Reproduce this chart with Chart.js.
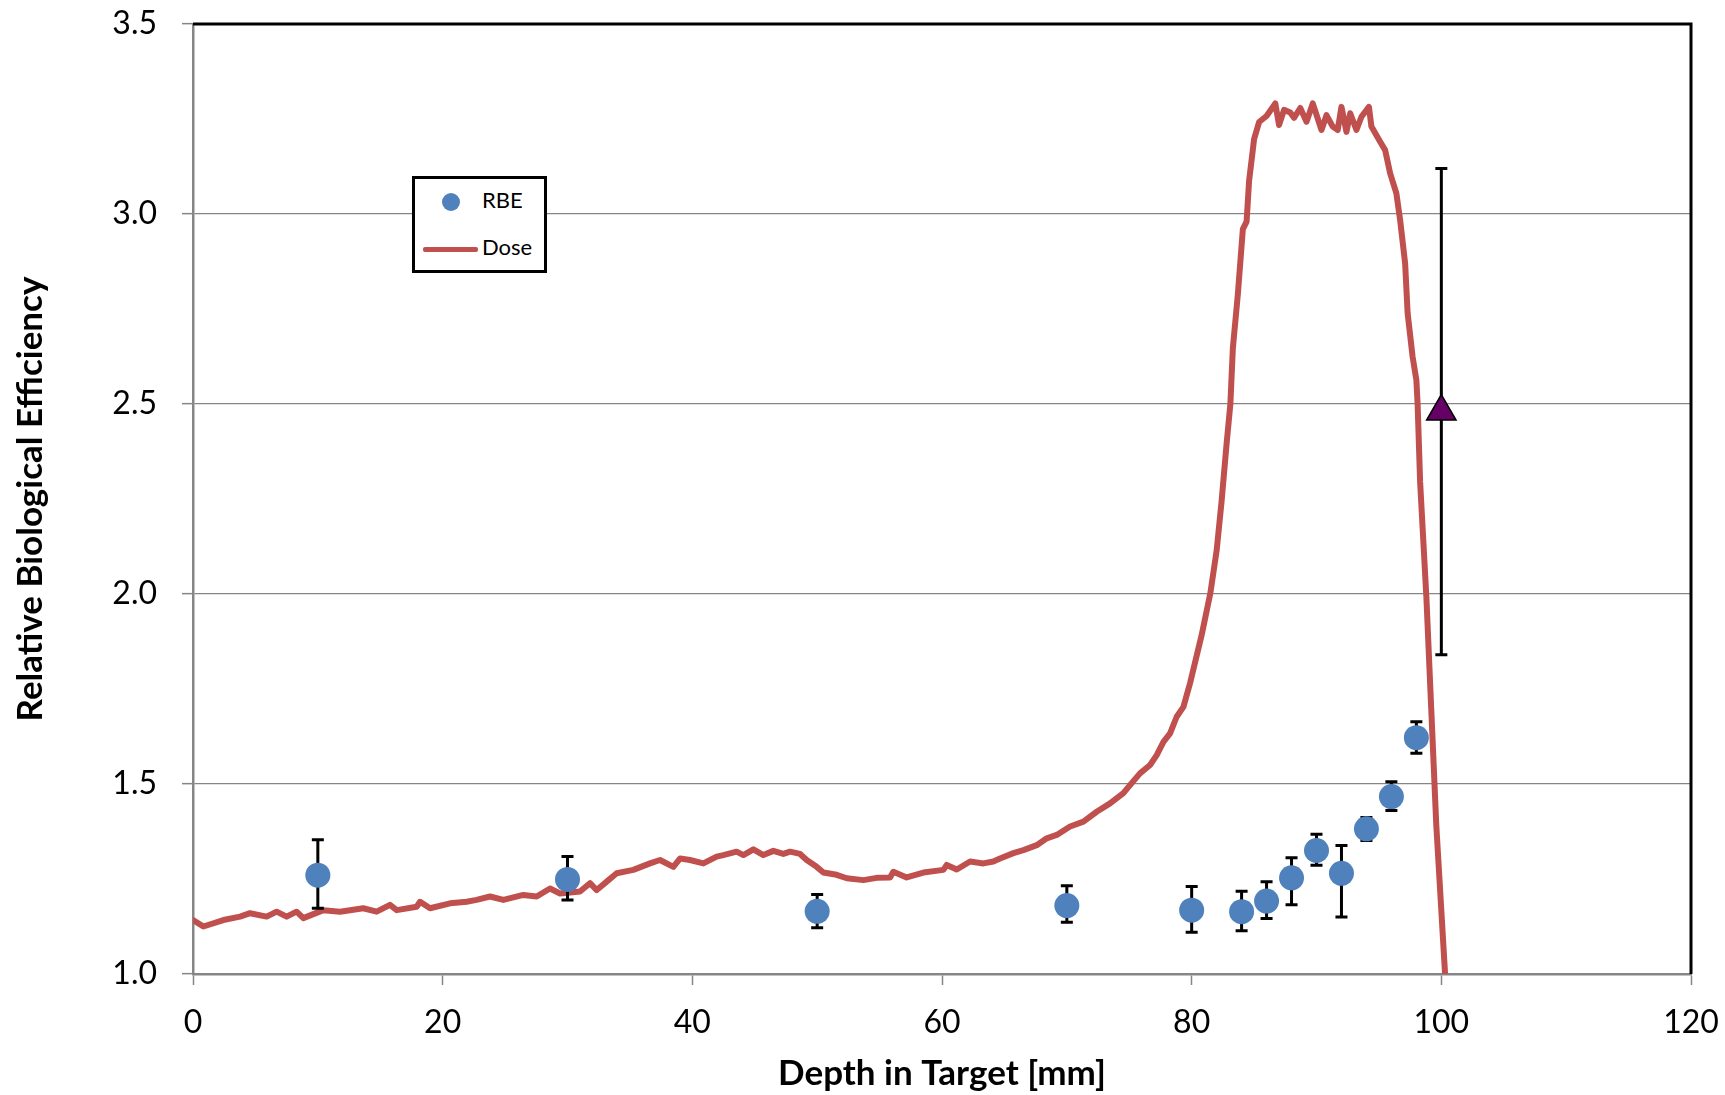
<!DOCTYPE html>
<html>
<head>
<meta charset="utf-8">
<title>RBE vs depth</title>
<script src="https://cdn.jsdelivr.net/npm/chart.js@4.4.1/dist/chart.umd.min.js"></script>
<style>
  body { margin: 0; background: #fff; }
  #wrap { position: relative; width: 1725px; height: 1095px; }
  #legend {
    position: absolute; left: 412px; top: 176px; width: 135px; height: 97px;
    box-sizing: border-box; border: 3px solid #000; background: #fff;
    font-family: Lato, sans-serif; font-size: 22px; color: #000;
  }
  #legend .dot { position: absolute; left: 27px; top: 14px; width: 18px; height: 18px; border-radius: 50%; background: #4F81BD; }
  #legend .line { position: absolute; left: 8px; top: 68px; width: 55px; height: 5px; border-radius: 2px; background: #C0504D; }
  #legend .txt { position: absolute; left: 67px; line-height: 26px; }
</style>
</head>
<body>
<div id="wrap">
  <canvas id="myChart" width="1725" height="1095"></canvas>
  <div id="legend">
    <span class="dot"></span><span class="txt" style="top:8px">RBE</span>
    <span class="line"></span><span class="txt" style="top:55px">Dose</span>
  </div>
</div>
<script>
// RBE measurements (depth in mm) with upper/lower error
const rbeDepth = [10, 30, 50, 70, 80, 84, 86, 88, 90, 92, 94, 96, 98];
const rbeValue = [1.26, 1.249, 1.165, 1.18, 1.168, 1.164, 1.192, 1.253, 1.325, 1.265, 1.382, 1.467, 1.622];
const rbeErrUp = [0.093, 0.06, 0.044, 0.052, 0.062, 0.054, 0.051, 0.053, 0.043, 0.073, 0.03, 0.039, 0.042];
const rbeErrDown = [0.087, 0.054, 0.043, 0.044, 0.058, 0.05, 0.046, 0.071, 0.039, 0.115, 0.031, 0.037, 0.041];

// the single triangle point at the distal edge
const edgeDepth = [100];
const edgeValue = [2.48];
const edgeErrUp = [0.64];
const edgeErrDown = [0.64];

// dose profile
const doseDepth = [0, 0.83, 2.43, 3.77, 4.57, 5.9, 6.7, 7.5, 8.3, 8.84, 10.44, 11.78, 13.64, 14.71, 15.78, 16.32, 17.92, 18.19, 18.99,
  20.59, 21.92, 22.72, 23.79, 24.86, 26.46, 27.53, 28.6, 29.4, 31, 31.8, 32.34, 33.14, 33.94, 35.27, 36.61, 37.41, 38.48, 39.02,
  39.81, 40.88, 41.95, 42.48, 43.55, 44.09, 44.89, 45.69, 46.49, 47.29, 47.83, 48.63, 49.16, 49.96, 50.5, 51.56, 52.37, 53.7,
  54.77, 55.84, 56.1, 57.17, 58.51, 60.11, 60.38, 61.18, 62.25, 63.31, 64.11, 64.65, 65.72, 66.52, 67.59, 68.39, 69.19, 70.26,
  71.33, 72.39, 73.46, 74.53, 75.06, 75.86, 76.67, 77.2, 77.74, 78.27, 78.8, 79.34, 79.87, 80.8, 81.5, 82, 82.4, 82.8, 83.1,
  83.3, 83.7, 84.1, 84.4, 84.6, 84.8, 85, 85.4, 86, 86.7, 87, 87.4, 87.9, 88.2, 88.7, 89.2, 89.7, 90.4, 90.8, 91.3, 91.7, 92,
  92.4, 92.7, 93.2, 93.6, 94.2, 94.4, 95.1, 95.5, 95.9, 96.4, 96.7, 97.1, 97.3, 97.7, 98, 98.1, 98.3, 98.8, 99.2, 99.6, 100.3];
const doseValue = [1.142, 1.125, 1.142, 1.151, 1.16, 1.151, 1.164, 1.151, 1.164, 1.147, 1.168, 1.164, 1.173, 1.164, 1.182, 1.168, 1.177, 1.19, 1.173,
  1.186, 1.19, 1.195, 1.204, 1.195, 1.208, 1.204, 1.225, 1.212, 1.217, 1.239, 1.221, 1.243, 1.265, 1.274, 1.291, 1.3, 1.282, 1.304,
  1.3, 1.291, 1.309, 1.313, 1.322, 1.313, 1.328, 1.313, 1.324, 1.316, 1.322, 1.316, 1.3, 1.282, 1.267, 1.261, 1.252, 1.247,
  1.253, 1.254, 1.269, 1.254, 1.267, 1.274, 1.287, 1.275, 1.296, 1.291, 1.296, 1.304, 1.318, 1.326, 1.339, 1.357, 1.366, 1.388,
  1.401, 1.427, 1.449, 1.476, 1.497, 1.528, 1.55, 1.576, 1.611, 1.633, 1.677, 1.703, 1.765, 1.892, 2.003, 2.114, 2.245, 2.396, 2.5,
  2.647, 2.789, 2.96, 2.98, 3.087, 3.142, 3.197, 3.242, 3.258, 3.291, 3.234, 3.274, 3.267, 3.253, 3.279, 3.243, 3.291, 3.221, 3.26, 3.23, 3.221, 3.282,
  3.216, 3.265, 3.221, 3.256, 3.282, 3.23, 3.19, 3.168, 3.107, 3.054, 2.984, 2.87, 2.739, 2.624, 2.563, 2.5, 2.295, 1.993, 1.691, 1.389, 1.0];

const xTicks = [0, 20, 40, 60, 80, 100, 120];
const yTicks = [1.0, 1.5, 2.0, 2.5, 3.0, 3.5];

const toPoints = (xs, ys) => xs.map((x, i) => ({ x: x, y: ys[i] }));

// error bars, drawn just before the point dataset so the markers sit on top
const errorBars = {
  id: 'errorBars',
  beforeDatasetDraw(chart, args) {
    const ds = chart.data.datasets[args.index];
    if (!ds.errUp) return;
    const { ctx, scales: { x, y } } = chart;
    ctx.save();
    ctx.strokeStyle = '#000';
    ctx.lineWidth = 3;
    ds.data.forEach((p, i) => {
      const px = x.getPixelForValue(p.x);
      const top = y.getPixelForValue(p.y + ds.errUp[i]);
      const bot = y.getPixelForValue(p.y - ds.errDown[i]);
      ctx.beginPath();
      ctx.moveTo(px, top); ctx.lineTo(px, bot);
      ctx.moveTo(px - 6, top); ctx.lineTo(px + 6, top);
      ctx.moveTo(px - 6, bot); ctx.lineTo(px + 6, bot);
      ctx.stroke();
    });
    ctx.restore();
  }
};

// black frame on top and right side of the plot
const frame = {
  id: 'frame',
  beforeDatasetsDraw(chart) {
    const { ctx, chartArea: a } = chart;
    ctx.save();
    ctx.strokeStyle = '#000';
    ctx.lineWidth = 3;
    ctx.beginPath();
    ctx.moveTo(a.left, a.top);
    ctx.lineTo(a.right, a.top);
    ctx.lineTo(a.right, a.bottom);
    ctx.stroke();
    ctx.restore();
  }
};

Chart.defaults.font.family = 'Lato';
Chart.defaults.color = '#000';

new Chart(document.getElementById('myChart'), {
  type: 'scatter',
  data: {
    datasets: [
      {
        label: 'RBE',
        data: toPoints(rbeDepth, rbeValue),
        errUp: rbeErrUp,
        errDown: rbeErrDown,
        backgroundColor: '#4F81BD',
        borderWidth: 0,
        pointRadius: 12.5,
        order: 1
      },
      {
        label: 'RBE edge',
        data: toPoints(edgeDepth, edgeValue),
        errUp: edgeErrUp,
        errDown: edgeErrDown,
        pointStyle: 'triangle',
        backgroundColor: '#660066',
        borderColor: '#000',
        borderWidth: 1.5,
        pointRadius: 17,
        order: 0
      },
      {
        label: 'Dose',
        data: toPoints(doseDepth, doseValue),
        showLine: true,
        borderColor: '#C0504D',
        borderWidth: 6,
        borderJoinStyle: 'round',
        borderCapStyle: 'round',
        pointRadius: 0,
        tension: 0,
        order: 2
      }
    ]
  },
  options: {
    responsive: false,
    animation: false,
    devicePixelRatio: 1,
    layout: { padding: { left: 0, top: 24, right: 34, bottom: 0 } },
    plugins: { legend: { display: false }, tooltip: { enabled: false } },
    scales: {
      x: {
        min: 0, max: 120,
        afterFit: s => { s.height = 121; s.paddingLeft = 0; s.paddingRight = 0; },
        afterBuildTicks: s => { s.ticks = xTicks.map(v => ({ value: v })); },
        ticks: { font: { size: 32 }, padding: 18, maxRotation: 0 },
        grid: { drawOnChartArea: false, drawTicks: true, tickLength: 11, tickColor: '#868686', tickWidth: 1.5 },
        border: { color: '#868686', width: 2.5 },
        title: { display: true, text: 'Depth in Target [mm]', font: { size: 35, weight: 'bold' }, padding: { top: 0, bottom: 0 } }
      },
      y: {
        min: 1, max: 3.5,
        afterFit: s => { s.width = 193; s.paddingTop = 0; s.paddingBottom = 0; },
        afterBuildTicks: s => { s.ticks = yTicks.map(v => ({ value: v })); },
        ticks: { font: { size: 32 }, padding: 25, callback: v => v.toFixed(1) },
        grid: { color: '#868686', lineWidth: 1.3, tickLength: 11, tickColor: '#868686', tickWidth: 1.5 },
        border: { color: '#868686', width: 2.5 },
        title: { display: true, text: 'Relative Biological Efficiency', font: { size: 35, weight: 'bold' }, padding: { top: 10, bottom: 0 } }
      }
    }
  },
  plugins: [errorBars, frame]
});
</script>
</body>
</html>
